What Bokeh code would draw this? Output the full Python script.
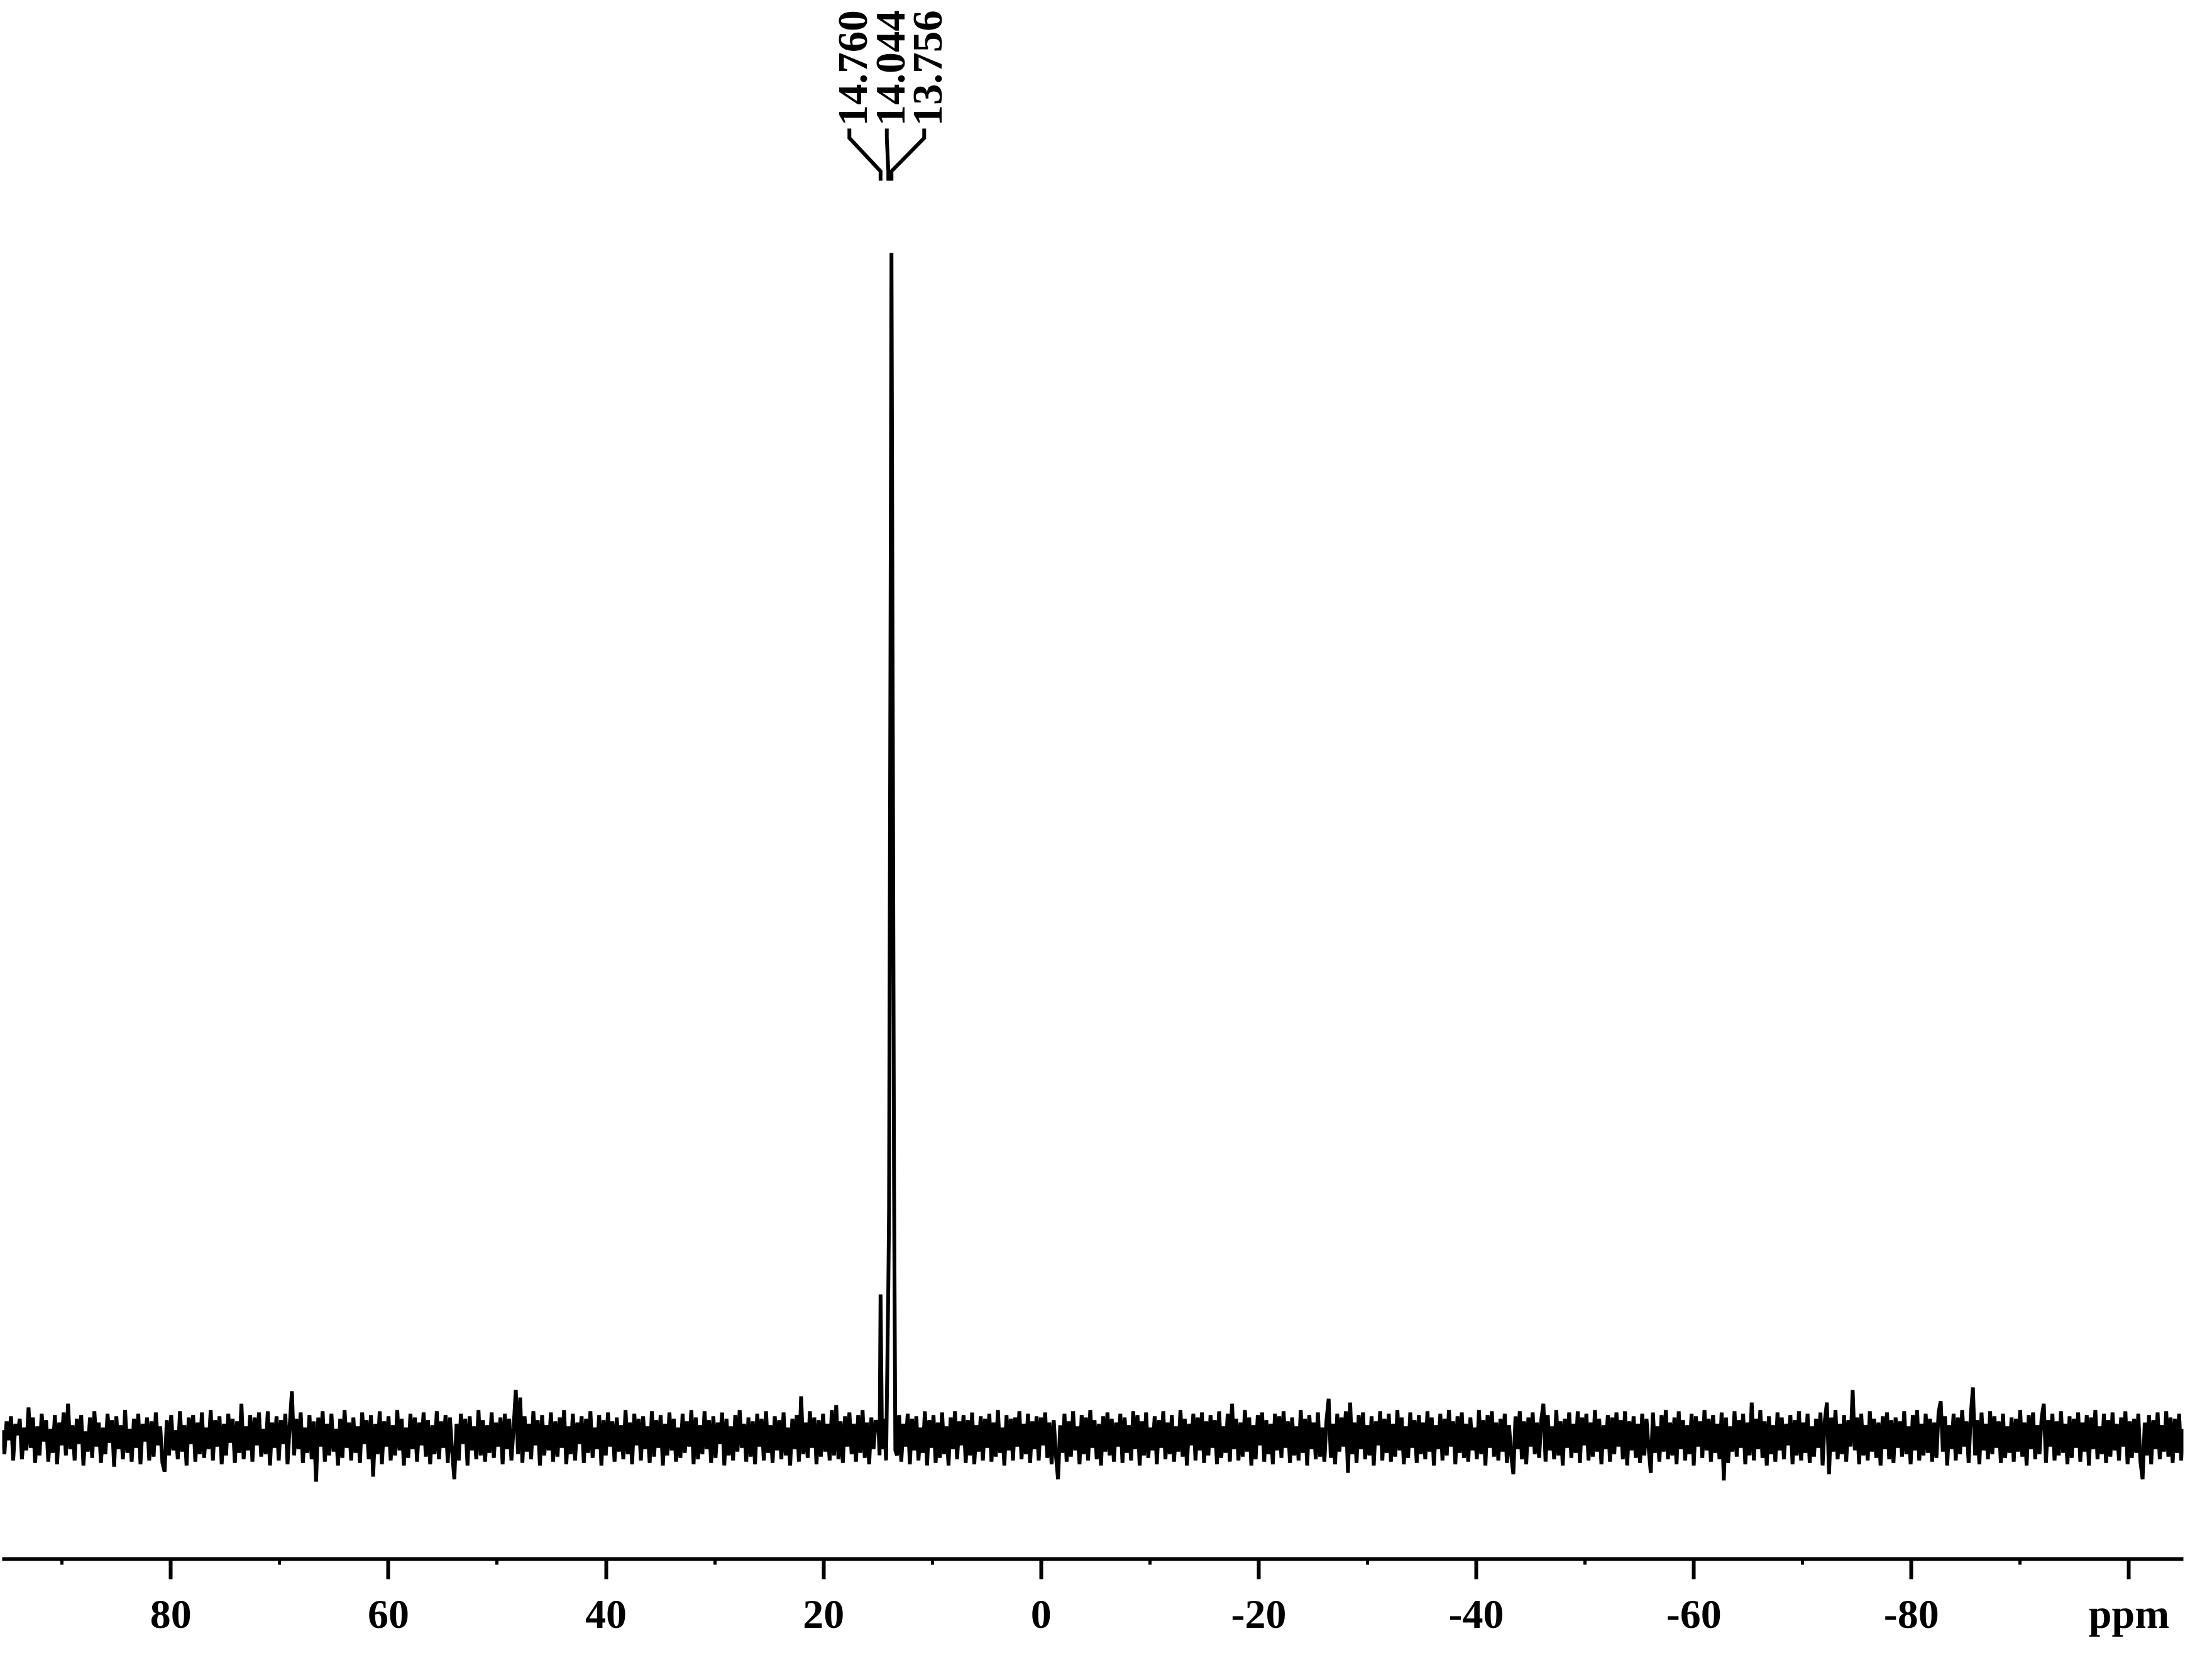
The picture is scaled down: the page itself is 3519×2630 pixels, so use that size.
import numpy as np
from bokeh.plotting import figure
from bokeh.models import Range1d, FixedTicker
from bokeh.core.properties import value
from bokeh.embed import file_html
from bokeh.resources import INLINE

# ---------------- data ----------------
ppm_left, ppm_right = 95.5, -105.0

# baseline noise, left of the peak group (95.5 -> 15.0 ppm)
noise_left = [
    10, -28, 24, -6, 32, -38, 20, 2, 28, -36, 14, -22, 46, -18, 30, -42, 16, -30, 36, -8,
    26, -40, 12, -26, 34, -44, 22, -14, 38, -30, 52, -20, 18, -38, 28, -12, 34, -46, 8, -24,
    30, -34, 40, -16, 22, -42, 14, -28, 36, -10, 26, -48, 32, -20, 18, -36, 42, -26, 12, -40,
    28, -18, 36, -44, 20, -8, 30, -38, 24, -32, 38, -14, 16, -42, -56, 26, -30, 34, -22, 10,
    -36, 40, -24, 18, -46, 30, -12, 34, -40, 22, -28, 38, -34, 14, -20, 42, -38, 26, -16, 32,
    -44, 20, -30, 36, -10, 28, -42, 24, -26, 52, -36, 16, -22, 34, -40, 30, -14, 38, -32, 12,
    -28, 40, -46, 22, -18, 32, -38, 26, -12, 36, -44, 18, 72, -30, 28, -20, 38, -42, 14, -26,
    34, -36, 24, -72, 30, -16, 40, -40, 20, -30, 36, -24, 12, -46, 28, -34, 42, -18, 22, -38,
    30, -26, 16, -42, 38, -12, 26, -36, 34, -64, 20, -28, 40, -44, 24, -16, 32, -38, 18, -30,
    42, -22, 28, -46, 14, -34, 36, -20, 30, -40, 22, -14, 38, -32, 26, -44, 18, -28, 40, -36,
    24, -18, 34, -42, 30, -24, -68, 20, -38, 36, -12, 28, -46, 32, -22, 16, -36, 42, -30, 26,
    -40, 18, -26, 38, -34, 22, -16, 30, -44, 36, -20, 28, -38, 14, 74, -28, 62, -42, 32, -24,
    20, -36, 40, -14, 26, -46, 34, -30, 18, -22, 38, -40, 24, -32, 30, -18, 42, -44, 16, -28,
    36, -38, 22, -12, 32, -42, 28, -26, 40, -34, 14, -20, 34, -46, 26, -30, 38, -16, 24, -40,
    30, -24, 18, -36, 42, -28, 22, -44, 36, -14, 28, -38, 32, -20, 16, -42, 40, -32, 26, -18,
    34, -46, 20, -30, 38, -22, 28, -40, 14, -34, 36, -26, 24, -16, 42, -44, 30, -36, 18, -28,
    40, -20, 26, -42, 32, -34, 22, -12, 38, -46, 28, -30, 16, -38, 34, -24, 42, -18, 20, -40,
    30, -32, 24, -44, 36, -16, 28, -38, 40, -26, 18, -42, 32, -22, 26, -36, 38, -30, 14, -46,
    28, -20, 34, -40, 64, -28, 22, -34, 40, -18, 30, -44, 26, -32, 36, -24, 20, -38, 42, -30,
    50, -36, 24, -42, 32, -16, 38, -28, 20, -40, 34, -26, 42, -34, 22, -44, 30, -20, 26, 12,
]
noise_left_range = (95.5, 15.0)

# peak group (ppm, intensity)
peak_ppm = [14.95, 14.85, 14.76, 14.62, 14.45, 14.25, 14.044, 13.98, 13.756, 13.52, 13.40]
peak_int = [15, -30, 226, -20, 28, -38, 241, 358, 1883, 403, -22]

# baseline noise, right of the peak group (13.25 -> -105.0 ppm)
noise_right = [
    -30, 34, -40, 20, -16, 36, -44, 28, -22, 32, -38, 14, -26, 40, -46, 26, -18, 34, -42, 22,
    -34, 38, -28, 16, -46, 30, -20, 40, -36, 24, -14, 34, -42, 26, -30, 38, -44, 18, -24, 32,
    -38, 28, -18, 36, -40, 22, -32, 42, -26, 14, -46, 34, -22, 28, -38, 30, -16, 40, -36, 20,
    -28, 36, -42, 24, -20, 32, -38, 30, -14, 38, -34, 22, -44, 26, -30, -68, 18, -26, 36, -40,
    24, -32, 40, -22, 16, -44, 34, -28, 30, -38, 42, -18, 26, -36, 20, -46, 32, -24, 38, -30,
    28, -40, 22, -16, 36, -42, 30, -26, 18, -38, 40, -20, 34, -46, 24, -30, 38, -34, 14, -22,
    32, -44, 26, -18, 40, -36, 22, -28, 34, -40, 16, -24, 42, -32, 28, -46, 20, -14, 36, -38,
    30, -22, 38, -42, 24, -30, 34, -18, 26, -44, 40, -34, 16, -26, 36, -40, 52, -20, 28, -38,
    22, -32, 42, -24, 30, -46, 18, -36, 34, -14, 38, -40, 26, -28, 20, -44, 36, -22, 32, -34,
    40, -18, 24, -42, 30, -30, 16, -38, 42, -26, 28, -46, 34, -20, 22, -36, 38, -32, 14, -40,
    26, 60, -34, 20, -44, 36, -24, 30, -16, 40, -58, 54, -28, 22, -42, 34, -20, 38, -36, 18,
    -30, 32, -46, 24, -14, 40, -38, 28, -26, 36, -40, 20, -32, 42, -22, 30, -44, 16, -34, 38,
    -18, 26, -42, 34, -28, 22, -36, 40, -24, 30, -46, 18, -20, 36, -38, 28, -30, 42, -16, 24,
    -44, 32, -26, 38, -34, 20, -40, 30, -22, 14, -36, 42, -28, 26, -46, 34, -18, 40, -32, 22,
    -38, 28, -24, 36, -42, 18, -30, -60, 32, -20, 40, -36, 24, -44, 30, -16, 38, -28, 22, -34,
    26, 52, -40, 34, -22, 16, -36, 42, -30, 24, -46, 28, -18, 38, -34, 20, -26, 40, -42, 30,
    -14, 36, -38, 22, -32, 42, -24, 28, -44, 18, -20, 34, -40, 30, -28, 38, -16, 26, -36, 40,
    -46, 24, -22, 32, -34, 20, -42, 36, -30, 28, -18, -58, 38, -26, 16, -40, 34, -24, 42, -36,
    22, -30, 30, -44, 40, -20, 26, -38, 18, -28, 36, -46, 32, -16, 24, -34, 42, -22, 28, -40,
    34, -26, 20, -36, 38, -70, 30, -42, 16, -24, 40, -32, 26, -18, 36, -44, 22, -30, 54, -38,
    28, -20, 42, -34, 24, -46, 32, -28, 18, -40, 38, -22, 30, -36, 20, -14, 34, -44, 26, -30,
    40, -38, 22, -26, 36, -42, 16, -32, 28, -18, 38, -46, 24, 54, -60, 30, -24, 42, -36, 20,
    -28, 34, -40, 26, -16, 74, -22, 30, -44, 36, -30, 18, -38, 40, -24, 28, -34, 22, -46, 32,
    -20, 38, -36, 26, -42, 30, -18, 24, -32, 40, -28, 16, -44, 34, -22, 42, -38, 20, -30, 36,
    -26, 28, -40, 22, -34, 38, 56, -24, 32, -46, 18, -20, 36, -38, 30, -28, 42, -16, 24, -42,
    34, 78, -30, 26, -44, 38, -22, 20, -36, 40, -28, 32, -18, 24, -42, 36, -34, 16, -26, 30,
    -40, 28, -24, 42, -32, 22, -46, 34, -20, 38, -36, 18, -28, 30, 52, -42, 26, -16, 36, -38,
    24, -30, 40, -26, 20, -44, 32, -34, 28, -18, 38, -40, 22, -24, 34, -46, 30, -20, 42, -36,
    16, -28, 36, -42, 26, -32, 38, -22, 20, -38, 30, -16, 40, -44, 24, -34, 28, -26, 36, -40,
    -68, 22, -30, 34, -44, 26, -20, 38, -36, 18, -24, 40, -32, 30, -42, 28, -26, 36, -38, 12,
]
noise_right_range = (13.25, -105.0)

# peak labels
label_ppm = [14.760, 14.044, 13.756]
label_text = ["14.760", "14.044", "13.756"]

# axis ticks
major_ticks = [-100, -80, -60, -40, -20, 0, 20, 40, 60, 80]
major_labels = ["ppm", "-80", "-60", "-40", "-20", "0", "20", "40", "60", "80"]
minor_ticks = [-90, -70, -50, -30, -10, 10, 30, 50, 70, 90]

# ---------------- assemble spectrum ----------------
x_left = np.linspace(noise_left_range[0], noise_left_range[1], len(noise_left))
x_right = np.linspace(noise_right_range[0], noise_right_range[1], len(noise_right))
ppm = np.concatenate([x_left, np.array(peak_ppm), x_right])
inten = np.concatenate([np.array(noise_left, float), np.array(peak_int, float),
                        np.array(noise_right, float)])

# ---------------- figure ----------------
W, H = 3503, 2614
b_left, b_right, b_top, b_bottom = 3, 30, 0, 134
frame_w = W - b_left - b_right
frame_h = H - b_top - b_bottom
y_bottom = -195
y_top = y_bottom + frame_h

p = figure(width=W, height=H, output_backend="svg", toolbar_location=None,
           x_range=Range1d(ppm_left, ppm_right), y_range=Range1d(y_bottom, y_top),
           y_axis_location=None, min_border_left=b_left, min_border_right=b_right,
           min_border_top=b_top, min_border_bottom=b_bottom)
p.outline_line_color = None
p.grid.visible = False
p.background_fill_color = "white"
p.border_fill_color = "white"

p.line(ppm, inten, line_color="black", line_width=6, line_join="bevel")

# peak labels with connectors
px_per_ppm = frame_w / (ppm_left - ppm_right)
col_gap_px = 59.5
center = float(np.mean(label_ppm))
n = len(label_ppm)
lab_x = [center - (k - (n - 1) / 2) * col_gap_px / px_per_ppm for k in range(n)]
text_x = [lx - 6 / px_per_ppm for lx in lab_x]
y_text = 2085
y_c = [2081, 2066, 2013, 1998]
xs = [[lx, lx, pk, pk] for lx, pk in zip(lab_x, label_ppm)]
ys = [y_c for _ in label_ppm]
p.multi_line(xs, ys, line_color="black", line_width=6, line_join="miter")
p.text(x=text_x, y=[y_text] * n, text=label_text, angle=np.pi / 2,
       text_align="left", text_baseline="middle",
       text_font=value("Liberation Serif"), text_font_style="bold",
       text_font_size="67px", text_color="black")

# x axis
ax = p.xaxis[0]
ax.ticker = FixedTicker(ticks=major_ticks, minor_ticks=minor_ticks)
ax.major_label_overrides = {t: s for t, s in zip(major_ticks, major_labels)}
ax.axis_line_width = 6
ax.axis_line_color = "black"
ax.major_tick_line_width = 6
ax.major_tick_out = 32
ax.major_tick_in = 0
ax.minor_tick_line_width = 5
ax.minor_tick_out = 9
ax.minor_tick_in = 0
ax.major_label_standoff = 18
ax.major_label_text_font = "Liberation Serif"
ax.major_label_text_font_style = "bold"
ax.major_label_text_font_size = "66px"
ax.major_label_text_color = "black"

open("out.html", "w").write(file_html(p, INLINE))
